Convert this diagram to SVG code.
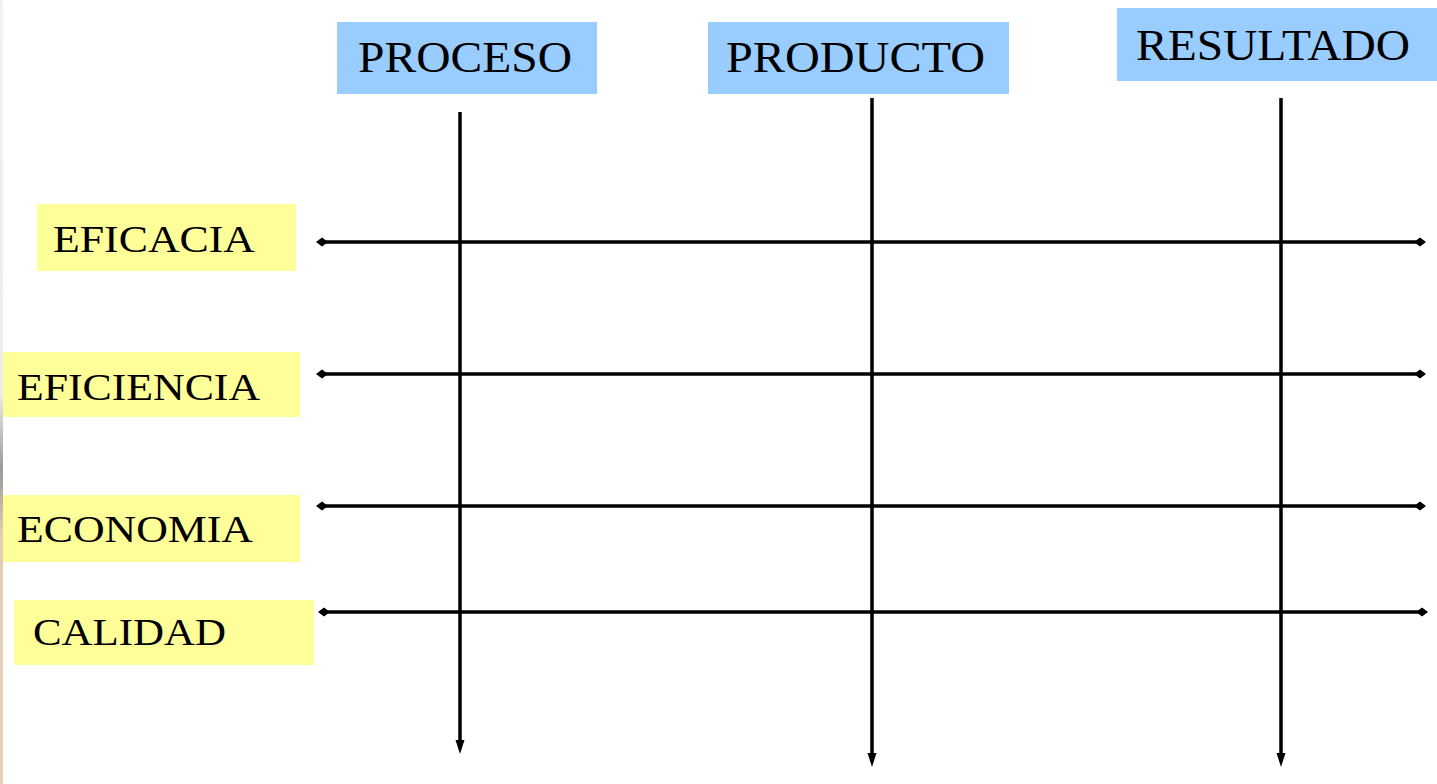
<svg xmlns="http://www.w3.org/2000/svg" width="1437" height="784" viewBox="0 0 1437 784">
<style>
.top{fill:#99ccff}
.side{fill:#ffff99}
.t{font-family:"Liberation Serif","Times New Roman",serif;fill:#000}
.tt{font-size:44px}
.st{font-size:38px}
.ln{stroke:#000;stroke-width:3.5;fill:none}
</style>
<defs>
<marker id="dia" viewBox="0 0 12 10" refX="6" refY="5" markerWidth="12" markerHeight="10" markerUnits="userSpaceOnUse" orient="auto">
<path d="M0,5 L6,0.5 L12,5 L6,9.5 Z" fill="#000"/>
</marker>
<marker id="arr" viewBox="0 0 14 10" refX="6" refY="5" markerWidth="14" markerHeight="10" markerUnits="userSpaceOnUse" orient="auto">
<path d="M0,0.5 L14,5 L0,9.5 Z" fill="#000"/>
</marker>
<linearGradient id="edge" x1="0" y1="0" x2="0" y2="1">
<stop offset="0" stop-color="#f2f2f2"/>
<stop offset="0.5" stop-color="#f0ece8"/>
<stop offset="0.6" stop-color="#9a9a9a"/>
<stop offset="0.68" stop-color="#e2ccb4"/>
<stop offset="1" stop-color="#e6d2bc"/>
</linearGradient>
</defs>
<rect x="0" y="0" width="1437" height="784" fill="#fff"/>
<rect x="0" y="0" width="3" height="784" fill="url(#edge)"/>
<g id="connectors">
<line class="ln" x1="460" y1="112" x2="460" y2="746" marker-end="url(#arr)"/>
<line class="ln" x1="872" y1="98" x2="872" y2="759" marker-end="url(#arr)"/>
<line class="ln" x1="1281" y1="98" x2="1281" y2="759" marker-end="url(#arr)"/>
<line class="ln" x1="322" y1="242" x2="1420" y2="242" marker-start="url(#dia)" marker-end="url(#dia)"/>
<line class="ln" x1="322" y1="374" x2="1420" y2="374" marker-start="url(#dia)" marker-end="url(#dia)"/>
<line class="ln" x1="322" y1="506" x2="1420" y2="506" marker-start="url(#dia)" marker-end="url(#dia)"/>
<line class="ln" x1="324" y1="612" x2="1422" y2="612" marker-start="url(#dia)" marker-end="url(#dia)"/>
</g>
<g id="proceso">
<rect class="top" x="337" y="22" width="260" height="72"/>
<text class="t tt" x="358" y="72" textLength="214" lengthAdjust="spacingAndGlyphs">PROCESO</text>
</g>
<g id="producto">
<rect class="top" x="708" y="22" width="301" height="72"/>
<text class="t tt" x="726" y="72" textLength="259" lengthAdjust="spacingAndGlyphs">PRODUCTO</text>
</g>
<g id="resultado">
<rect class="top" x="1117" y="8" width="320" height="73"/>
<text class="t tt" x="1136" y="60" textLength="274" lengthAdjust="spacingAndGlyphs">RESULTADO</text>
</g>
<g id="eficacia">
<rect class="side" x="37" y="204" width="259" height="67"/>
<text class="t st" x="53" y="252" textLength="202" lengthAdjust="spacingAndGlyphs">EFICACIA</text>
</g>
<g id="eficiencia">
<rect class="side" x="3" y="352" width="297" height="65"/>
<text class="t st" x="17" y="400" textLength="243" lengthAdjust="spacingAndGlyphs">EFICIENCIA</text>
</g>
<g id="economia">
<rect class="side" x="3" y="495" width="297" height="67"/>
<text class="t st" x="17" y="542" textLength="236" lengthAdjust="spacingAndGlyphs">ECONOMIA</text>
</g>
<g id="calidad">
<rect class="side" x="14" y="600" width="300" height="65"/>
<text class="t st" x="33" y="645" textLength="193" lengthAdjust="spacingAndGlyphs">CALIDAD</text>
</g>
</svg>
